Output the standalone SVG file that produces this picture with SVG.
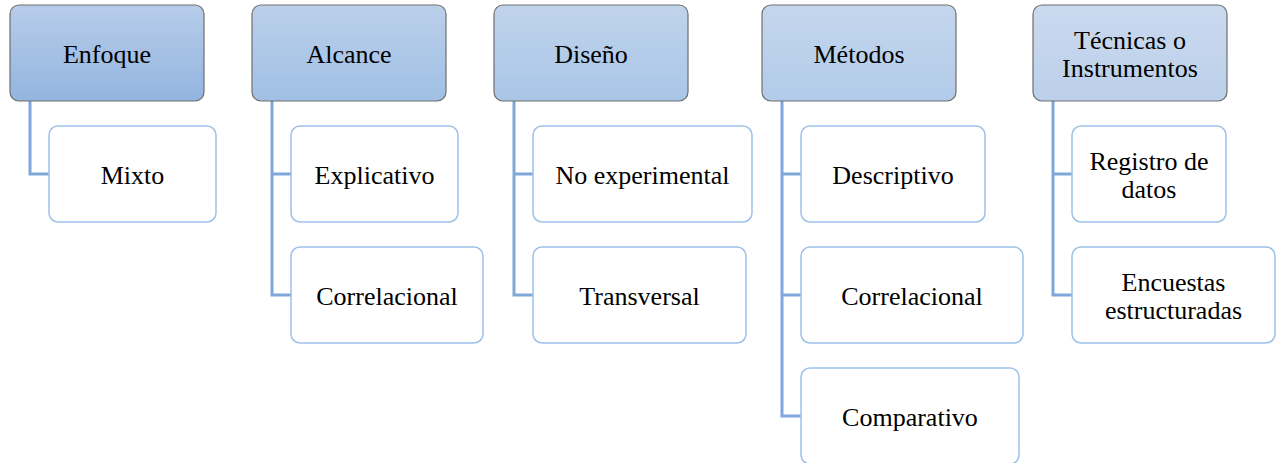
<svg xmlns="http://www.w3.org/2000/svg" width="1276" height="463" viewBox="0 0 1276 463">
<style>
.hd{stroke:#6e6e6e;stroke-width:1.2}
.ch{fill:#ffffff;stroke:#9dc1e9;stroke-width:1.5}
.cn{fill:none;stroke:#7fa7da;stroke-width:3}
.t text{font-family:'Liberation Serif','Times New Roman',Times,Tinos,'Noto Serif','DejaVu Serif',FreeSerif,serif;font-size:26px;fill:#000;text-anchor:middle}
</style>
<defs>
<linearGradient id="g1" x1="0" y1="0" x2="0" y2="1"><stop offset="0" stop-color="#b7cce9"/><stop offset="1" stop-color="#93b5e0"/></linearGradient>
<linearGradient id="g2" x1="0" y1="0" x2="0" y2="1"><stop offset="0" stop-color="#bbcfea"/><stop offset="1" stop-color="#a0c0e5"/></linearGradient>
<linearGradient id="g3" x1="0" y1="0" x2="0" y2="1"><stop offset="0" stop-color="#c0d3ec"/><stop offset="1" stop-color="#a9c6e7"/></linearGradient>
<linearGradient id="g4" x1="0" y1="0" x2="0" y2="1"><stop offset="0" stop-color="#c4d6ed"/><stop offset="1" stop-color="#b2cbe9"/></linearGradient>
<linearGradient id="g5" x1="0" y1="0" x2="0" y2="1"><stop offset="0" stop-color="#cad9ee"/><stop offset="1" stop-color="#bcd0ea"/></linearGradient>
</defs>
<g id="connectors">
<path class="cn" d="M30 101V174H49"/>
<path class="cn" d="M272 101V295H291M272 174H291"/>
<path class="cn" d="M514 101V295H533M514 174H533"/>
<path class="cn" d="M782 101V416H801M782 174H801M782 295H801"/>
<path class="cn" d="M1053 101V295H1072M1053 174H1072"/>
</g>
<g class="t">
<g id="enfoque"><rect class="hd" x="10" y="5" width="194" height="96" rx="9" fill="url(#g1)"/><text x="107" y="63">Enfoque</text></g>
<g id="mixto"><rect class="ch" x="49" y="126" width="167" height="96" rx="9"/><text x="132.5" y="184">Mixto</text></g>
<g id="alcance"><rect class="hd" x="252" y="5" width="194" height="96" rx="9" fill="url(#g2)"/><text x="349" y="63">Alcance</text></g>
<g id="explicativo"><rect class="ch" x="291" y="126" width="167" height="96" rx="9"/><text x="374.5" y="184">Explicativo</text></g>
<g id="correlacional1"><rect class="ch" x="291" y="247" width="192" height="96" rx="9"/><text x="387" y="305">Correlacional</text></g>
<g id="diseno"><rect class="hd" x="494" y="5" width="194" height="96" rx="9" fill="url(#g3)"/><text x="591" y="63">Diseño</text></g>
<g id="noexp"><rect class="ch" x="533" y="126" width="219" height="96" rx="9"/><text x="642.5" y="184">No experimental</text></g>
<g id="transversal"><rect class="ch" x="533" y="247" width="213" height="96" rx="9"/><text x="639.5" y="305">Transversal</text></g>
<g id="metodos"><rect class="hd" x="762" y="5" width="194" height="96" rx="9" fill="url(#g4)"/><text x="859" y="63">Métodos</text></g>
<g id="descriptivo"><rect class="ch" x="801" y="126" width="184" height="96" rx="9"/><text x="893" y="184">Descriptivo</text></g>
<g id="correlacional2"><rect class="ch" x="801" y="247" width="222" height="96" rx="9"/><text x="912" y="305">Correlacional</text></g>
<g id="comparativo"><rect class="ch" x="801" y="368" width="218" height="96" rx="9"/><text x="910" y="426">Comparativo</text></g>
<g id="tecnicas"><rect class="hd" x="1033" y="5" width="194" height="96" rx="9" fill="url(#g5)"/><text x="1130" y="49">Técnicas o</text><text x="1130" y="77">Instrumentos</text></g>
<g id="registro"><rect class="ch" x="1072" y="126" width="154" height="96" rx="9"/><text x="1149" y="170">Registro de</text><text x="1149" y="198">datos</text></g>
<g id="encuestas"><rect class="ch" x="1072" y="247" width="203" height="96" rx="9"/><text x="1173.5" y="291">Encuestas</text><text x="1173.5" y="319">estructuradas</text></g>
</g>
</svg>
